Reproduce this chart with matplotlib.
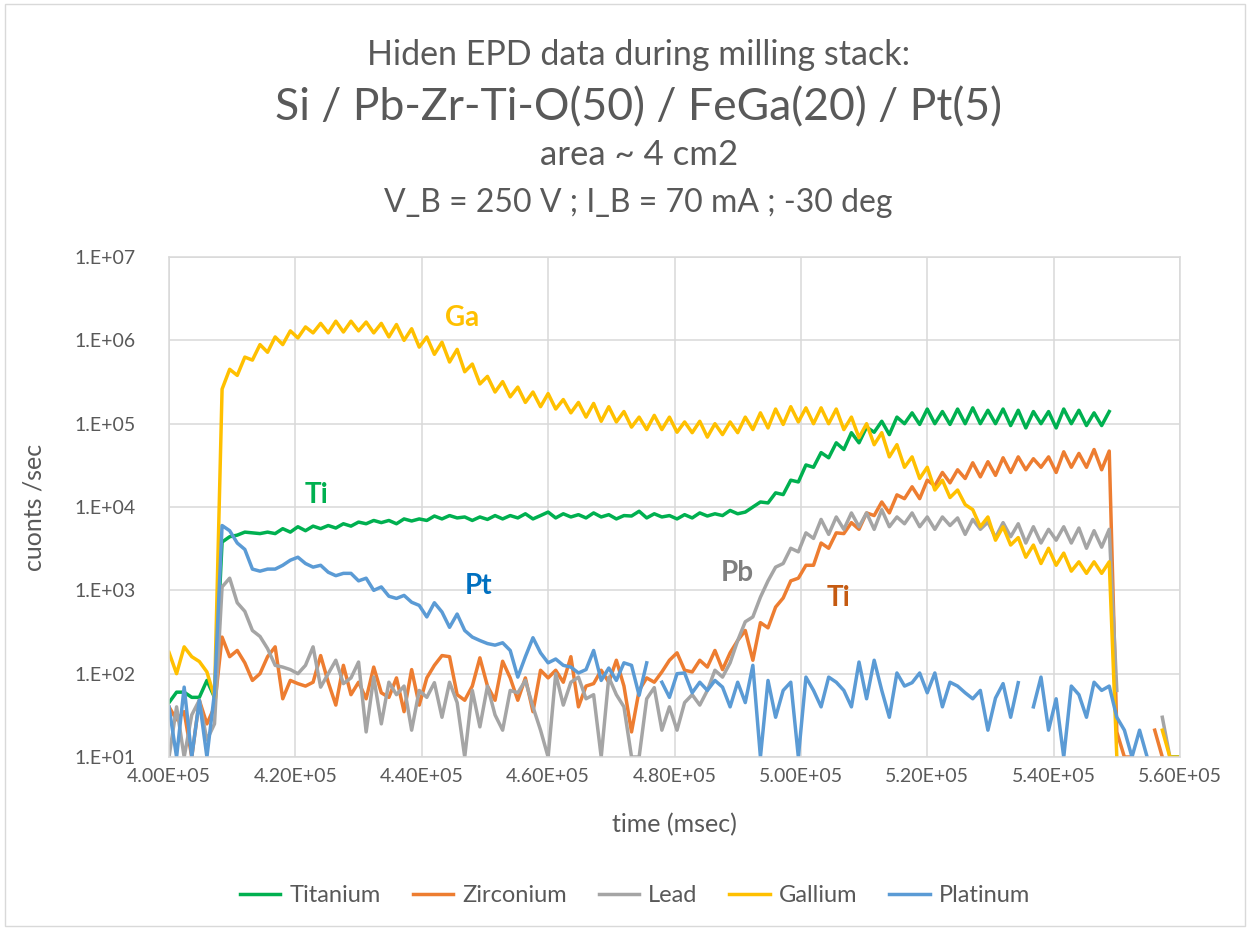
"""
Hiden EPD end-point data recorded while ion milling a
Si / Pb-Zr-Ti-O / FeGa / Pt stack, drawn on a log count axis.
"""

import numpy as np
import matplotlib

matplotlib.use("Agg")
import matplotlib.pyplot as plt
from matplotlib.patches import Rectangle
from matplotlib.ticker import FixedLocator, FuncFormatter, NullLocator

nan = np.nan

# sample times, one reading every 1.2 s
time_ms = np.arange(400000, 560001, 1200)

titanium = [
    45, 60, 60, 52, 52, 83, 52,
    3800, 4400, 4600, 5000, 4900, 4800, 5000, 4800, 5500, 5000,
    5800, 5200, 5900, 5500, 6000, 5600, 6300, 5900, 6600, 6300,
    6900, 6500, 6900, 6300, 7200, 6800, 7200, 6900, 7800, 7200,
    7900, 7400, 7600, 6900, 7600, 7100, 7900, 7200, 7900, 7400,
    8300, 7200, 7900, 8700, 7400, 8300, 7600, 8100, 7400, 8500,
    7600, 8100, 7200, 7900, 7800, 8900, 7400, 8300, 7600, 7900,
    7200, 8100, 7400, 8500, 7800, 8300, 7900, 9100, 8300, 8700,
    1.0e4, 1.15e4, 1.12e4, 1.48e4, 1.41e4, 2.1e4, 2.0e4, 3.2e4, 3.0e4, 4.5e4,
    3.9e4, 5.9e4, 4.9e4, 7.8e4, 5.9e4, 9.1e4, 7.9e4, 1.07e5, 7.4e4, 1.2e5,
    1.0e5, 1.35e5, 9.8e4, 1.5e5, 1.0e5, 1.4e5, 9.8e4, 1.5e5, 1.0e5, 1.55e5,
    1.0e5, 1.45e5, 1.0e5, 1.5e5, 9.5e4, 1.45e5, 8.9e4, 1.4e5, 1.0e5, 1.4e5,
    8.9e4, 1.5e5, 1.0e5, 1.45e5, 9.5e4, 1.35e5, 9.5e4, 1.4e5,
    nan, nan, nan, nan, nan, nan, nan, 10, 10,
]

zirconium = [
    40, 28, 35, 10, 48, 25, 40,
    275, 160, 190, 135, 83, 100, 160, 210, 50, 83,
    76, 71, 79, 165, 79, 42, 126, 56, 79, 50,
    120, 59, 52, 89, 35, 112, 42, 89, 126, 165,
    160, 56, 48, 71, 155, 71, 48, 141, 89, 48,
    89, 35, 110, 89, 110, 79, 160, 40, 71, 76,
    110, 79, 145, 71, 20, 63, 89, 79, 105, 145,
    178, 110, 105, 145, 120, 190, 112, 178, 250, 330,
    145, 410, 355, 630, 810, 1300, 1400, 2000, 2000, 3700,
    3200, 4900, 4800, 6500, 5400, 8500, 7900, 1.15e4, 8500, 1.4e4,
    1.26e4, 1.75e4, 1.26e4, 2.1e4, 1.8e4, 2.6e4, 1.95e4, 2.8e4, 2.2e4, 3.4e4,
    2.3e4, 3.5e4, 2.4e4, 3.9e4, 2.6e4, 4.0e4, 2.8e4, 3.8e4, 3.0e4, 4.0e4,
    2.6e4, 4.6e4, 3.0e4, 4.4e4, 3.0e4, 4.9e4, 2.8e4, 4.7e4,
    20, 10, 10, nan, nan, 21, 10, nan, nan,
]

lead = [
    10, 40, 10, 32, 48, 16, 25,
    1100, 1400, 710, 560, 330, 280, 200, 126, 120, 112,
    100, 126, 210, 69, 100, 145, 76, 89, 138, 20,
    91, 25, 79, 56, 71, 21, 63, 52, 78, 30,
    79, 45, 10, 63, 23, 71, 32, 21, 63, 59,
    83, 40, 21, 10, 100, 42, 79, 91, 50, 56,
    10, 91, 56, 40, 10, 10, 50, 68, 21, 40,
    21, 45, 56, 42, 63, 110, 91, 135, 250, 420,
    480, 830, 1300, 1900, 2100, 3200, 2900, 4900, 4200, 7100,
    4700, 7600, 5400, 8500, 5800, 8500, 5400, 9300, 5800, 7600,
    6300, 8500, 5800, 7600, 5400, 7600, 6000, 7400, 4700, 7100,
    5400, 6600, 4300, 6500, 4400, 6300, 3700, 5800, 3700, 5400,
    4000, 5800, 3700, 5600, 3200, 5200, 3300, 5400,
    63, nan, nan, nan, nan, nan, 30, 10, nan,
]

gallium = [
    180, 100, 210, 160, 140, 105, 52,
    2.6e5, 4.5e5, 3.8e5, 6.3e5, 5.8e5, 8.9e5, 7.2e5, 1.1e6, 8.9e5, 1.3e6,
    1.07e6, 1.45e6, 1.23e6, 1.6e6, 1.23e6, 1.7e6, 1.26e6, 1.7e6, 1.3e6, 1.66e6,
    1.23e6, 1.6e6, 1.1e6, 1.55e6, 1.0e6, 1.38e6, 8.3e5, 1.1e6, 6.8e5, 9.5e5,
    5.5e5, 7.8e5, 4.2e5, 5.2e5, 3.0e5, 3.7e5, 2.4e5, 3.2e5, 2.1e5, 2.75e5,
    1.8e5, 2.4e5, 1.6e5, 2.3e5, 1.5e5, 1.95e5, 1.35e5, 1.8e5, 1.2e5, 1.75e5,
    1.07e5, 1.6e5, 1.05e5, 1.4e5, 9.1e4, 1.2e5, 8.5e4, 1.26e5, 8.5e4, 1.2e5,
    7.9e4, 1.05e5, 7.8e4, 1.07e5, 6.9e4, 1.0e5, 7.4e4, 1.05e5, 7.8e4, 1.2e5,
    8.5e4, 1.35e5, 8.9e4, 1.5e5, 9.8e4, 1.6e5, 1.05e5, 1.55e5, 1.0e5, 1.55e5,
    1.0e5, 1.5e5, 8.5e4, 1.2e5, 6.8e4, 1.0e5, 5.6e4, 7.8e4, 4.0e4, 5.6e4,
    3.0e4, 4.0e4, 2.2e4, 3.0e4, 1.6e4, 2.1e4, 1.3e4, 1.6e4, 1.07e4, 9300,
    5800, 7600, 4000, 5800, 3500, 4300, 2500, 3500, 2100, 3200,
    2000, 2800, 1700, 2200, 1600, 2200, 1600, 2200,
    10, nan, nan, nan, nan, nan, 21, 10, 10,
]

platinum = [
    40, 10, 69, 10, 48, 10, 59,
    6000, 5200, 3700, 3100, 1800, 1700, 1800, 1800, 2000, 2300,
    2500, 2100, 1900, 2000, 1650, 1500, 1600, 1600, 1300, 1400,
    1000, 1100, 850, 800, 870, 720, 660, 480, 710, 550,
    360, 520, 330, 275, 250, 230, 220, 235, 190, 91,
    160, 270, 178, 135, 150, 126, 120, 102, 112, 190,
    83, 117, 83, 135, 126, 55, 135, nan, 79, 52,
    100, 102, 59, 79, 63, 83, 69, 40, 79, 45,
    126, 10, 83, 30, 63, 79, 10, 91, 63, 40,
    91, 79, 63, 40, 138, 50, 145, 63, 30, 102,
    71, 78, 102, 59, 102, 40, 79, 71, 59, 50,
    63, 21, 51, 76, 30, 78, nan, 40, 91, 21,
    50, 10, 71, 56, 30, 79, 63, 71,
    30, 21, 10, 21, 10, nan, nan, nan, nan,
]

series_names = ["Titanium", "Zirconium", "Lead", "Gallium", "Platinum"]
series_values = [titanium, zirconium, lead, gallium, platinum]
series_colors = ["#00B050", "#ED7D31", "#A5A5A5", "#FFC000", "#5B9BD5"]

# in-plot labels: text, time, counts, colour
labels = [
    ("Ga", 446400, 1.86e6, "#FFC000"),
    ("Ti", 423400, 1.41e4, "#00B050"),
    ("Pt", 449000, 1120, "#0070C0"),
    ("Pb", 489900, 1620, "#7F7F7F"),
    ("Ti", 505900, 800, "#C55A11"),
]

title_lines = [
    ("Hiden EPD data during milling stack:", 24.5, 0.941),
    ("Si / Pb-Zr-Ti-O(50) / FeGa(20) / Pt(5)", 32, 0.884),
    ("area ~ 4 cm2", 25, 0.833),
    ("V_B = 250 V ; I_B = 70 mA ; -30 deg", 23, 0.782),
]

text_grey = "#595959"
grid_grey = "#D9D9D9"

plt.rcParams["font.family"] = ["Lato", "DejaVu Sans"]

fig = plt.figure(figsize=(12.5, 9.3), dpi=100)
ax = fig.add_axes([0.1352, 0.186, 0.8088, 0.5376])

for name, values, color in zip(series_names, series_values, series_colors):
    ax.plot(time_ms, np.array(values, dtype=float), color=color,
            lw=2.5, label=name, solid_joinstyle="round")

ax.set_yscale("log")
ax.set_ylim(10, 1e7)
ax.set_xlim(400000, 560000)

ax.yaxis.set_major_locator(FixedLocator([10.0 ** k for k in range(1, 8)]))
ax.yaxis.set_minor_locator(NullLocator())
ax.yaxis.set_major_formatter(
    FuncFormatter(lambda v, p: "1.E+%02d" % round(np.log10(v))))
ax.xaxis.set_major_locator(FixedLocator(np.arange(400000, 560001, 20000)))
ax.xaxis.set_major_formatter(FuncFormatter(lambda v, p: "%.2fE+05" % (v / 1e5)))

ax.grid(True, color=grid_grey, lw=1.1)
ax.set_axisbelow(True)
for spine in ax.spines.values():
    spine.set_color(grid_grey)
    spine.set_linewidth(1.1)
ax.tick_params(axis="both", length=0, labelsize=14, colors=text_grey)
ax.tick_params(axis="y", pad=24)
ax.tick_params(axis="x", pad=8)

ax.set_xlabel("time (msec)", fontsize=18, color=text_grey, labelpad=20)
ax.set_ylabel("cuonts /sec", fontsize=18, color=text_grey)
ax.yaxis.set_label_coords(-0.122, 0.5)

for text, t, c, color in labels:
    ax.text(t, c, text, color=color, fontsize=20, fontweight="bold",
            ha="center", va="center")

for text, size, y in title_lines:
    fig.text(0.511, y, text, fontsize=size, color=text_grey,
             ha="center", va="center")

fig.legend(loc="center", bbox_to_anchor=(0.508, 0.037), ncol=5,
           frameon=False, fontsize=17, handlelength=1.7, handletextpad=0.4,
           columnspacing=1.35, labelcolor=text_grey)

fig.patches.append(Rectangle((0.004, 0.004), 0.992, 0.992,
                             transform=fig.transFigure, fill=False,
                             edgecolor=grid_grey, lw=1.0))

fig.savefig("out.png", dpi=100)
